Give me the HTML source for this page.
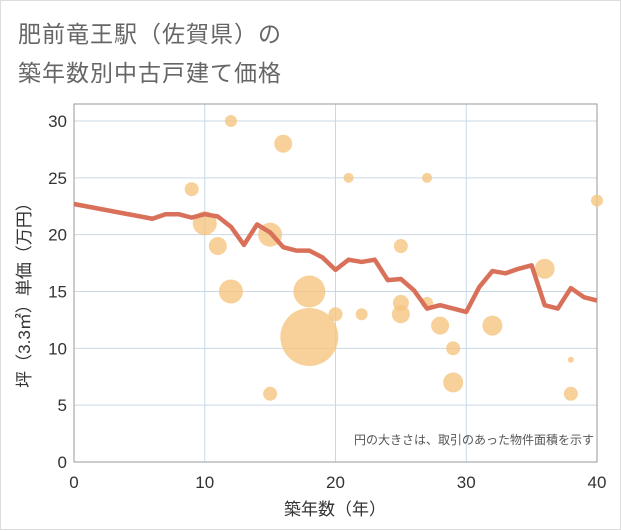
<!DOCTYPE html>
<html><head><meta charset="utf-8"><style>
body{margin:0;background:#fff}
#wrap{position:relative;width:619px;height:528px;border:1px solid #ddd;font-family:"Liberation Sans","Noto Sans CJK JP",sans-serif}
.title{position:absolute;left:17px;font-size:23px;color:#666;letter-spacing:1px}
svg{position:absolute;left:0;top:0}
</style></head><body>
<div id="wrap">
<div class="title" style="top:14px">肥前竜王駅（佐賀県）の</div>
<div class="title" style="top:53px">築年数別中古戸建て価格</div>
<svg id="c" width="621" height="530"></svg>
</div>
<script>
const xTicks=[0,10,20,30,40];
const yTicks=[0,5,10,15,20,25,30];
const bubbleX=[9,10,11,12,12,15,15,16,18,18,20,21,22,25,25,25,27,27,28,29,29,32,36,38,38,40];
const bubbleY=[24,21,19,30,15,20,6,28,15,11,13,25,13,19,14,13,25,14,12,10,7,12,17,9,6,23];
const bubbleR=[7,12,9,6,12,12,7,9,16,29,7,5,6,7,8,9,5,6,9,7,10,10,10,3,7,6];
const lineX=[0,6,7,8,9,10,11,12,13,14,15,16,17,18,19,20,21,22,23,24,25,26,27,28,29,30,31,32,33,34,35,36,37,38,39,40];
const lineY=[22.7,21.4,21.8,21.8,21.5,21.8,21.6,20.7,19.1,20.9,20.2,18.9,18.6,18.6,18.0,16.9,17.8,17.6,17.8,16.0,16.1,15.1,13.5,13.8,13.5,13.2,15.4,16.8,16.6,17.0,17.3,13.8,13.5,15.3,14.5,14.2];
const L=73,R=596,T=103,B=461;
const xs=v=>L+(R-L)*v/40, ys=v=>B-(B-120)*v/30;
const svg=document.getElementById('c'),NS='http://www.w3.org/2000/svg';
function mk(t,a,p){const e=document.createElementNS(NS,t);for(const k in a)e.setAttribute(k,a[k]);(p||svg).appendChild(e);return e;}
for(const t of xTicks){const g=mk('line',{x1:xs(t),x2:xs(t),y1:T,y2:B,stroke:'#c9d8e6','stroke-width':1});

const tx=mk('text',{x:xs(t),y:487,'text-anchor':'middle','font-size':17,fill:'#333'});tx.textContent=t;
}
for(const t of yTicks){const g=mk('line',{x1:L,x2:R,y1:ys(t),y2:ys(t),stroke:'#c9d8e6','stroke-width':1});

const tx=mk('text',{x:66,y:ys(t)+6,'text-anchor':'end','font-size':17,fill:'#333'});tx.textContent=t;
}
const fr=mk('rect',{x:L,y:T,width:R-L,height:B-T,fill:'none',stroke:'#999'});

bubbleX.forEach((x,i)=>{const c=mk('circle',{cx:xs(x),cy:ys(bubbleY[i]),r:bubbleR[i],fill:'#f5c57f','fill-opacity':0.8});
});
const pl=mk('polyline',{points:lineX.map((x,i)=>xs(x)+','+ys(lineY[i])).join(' '),fill:'none',stroke:'#d9715a','stroke-width':4.5,'stroke-linejoin':'round'});

const note=mk('text',{x:593,y:443,'text-anchor':'end','font-size':12,fill:'#555'});note.textContent='円の大きさは、取引のあった物件面積を示す';

const xt=mk('text',{x:334,y:514,'text-anchor':'middle','font-size':17,fill:'#333'});xt.textContent='築年数（年）';

const yt=mk('text',{x:0,y:0,'text-anchor':'middle','font-size':17,fill:'#333',transform:'translate(29,290) rotate(-90)'});yt.textContent='坪（3.3㎡）単価（万円）';

</script>
</body></html>
